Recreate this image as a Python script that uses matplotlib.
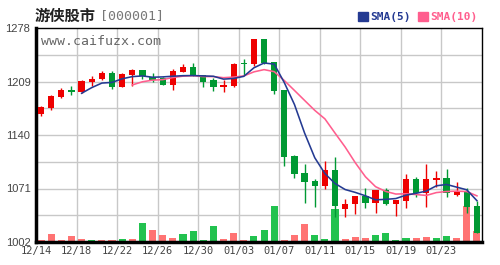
import numpy as np
import pandas as pd
import matplotlib
matplotlib.use("Agg")
import matplotlib.pyplot as plt
from matplotlib.patches import Rectangle

# daily candles, 12/14 .. 01/26
dates = pd.date_range("2023-12-14", periods=44, freq="D")
opens = [1166.7, 1175.2, 1189.4, 1198.0, 1195.5, 1208.7, 1211.9, 1219.6, 1201.9, 1217.4,
         1223.8, 1214.2, 1214.0, 1204.5, 1221.6, 1228.0, 1217.4, 1210.3, 1202.3, 1203.6,
         1232.5, 1231.2, 1263.8, 1233.8, 1198.0, 1112.9, 1091.4, 1081.0, 1074.6, 1094.9,
         1044.6, 1050.6, 1061.3, 1052.7, 1069.0, 1051.0, 1055.3, 1083.2, 1065.6, 1082.0,
         1085.0, 1062.6, 1066.9, 1048.4]
highs = [1177.0, 1192.0, 1200.6, 1203.2, 1211.0, 1216.5, 1222.5, 1222.5, 1220.3, 1225.1,
         1223.8, 1219.6, 1215.0, 1224.7, 1231.6, 1232.5, 1217.4, 1213.0, 1211.0, 1233.3,
         1238.0, 1263.8, 1263.8, 1234.0, 1198.0, 1114.2, 1102.6, 1083.2, 1106.9, 1111.0,
         1057.5, 1061.3, 1072.0, 1069.0, 1072.0, 1056.2, 1089.7, 1086.2, 1102.6, 1094.0,
         1096.0, 1079.0, 1071.3, 1054.9]
lows = [1165.0, 1172.6, 1188.0, 1192.0, 1194.0, 1203.6, 1210.6, 1199.7, 1201.5, 1203.2,
        1211.8, 1209.0, 1204.0, 1198.0, 1221.0, 1216.7, 1201.5, 1197.0, 1195.8, 1202.3,
        1217.4, 1229.0, 1231.2, 1192.9, 1100.4, 1085.0, 1052.7, 1047.5, 1070.0, 1033.9,
        1034.6, 1038.0, 1045.5, 1039.8, 1049.7, 1036.0, 1045.5, 1060.4, 1046.8, 1073.3,
        1060.4, 1061.7, 1039.0, 1013.2]
closes = [1175.7, 1190.3, 1198.0, 1195.5, 1209.6, 1212.2, 1219.6, 1202.3, 1218.7, 1223.8,
          1216.5, 1211.2, 1204.5, 1223.0, 1227.3, 1217.4, 1208.7, 1202.3, 1204.5, 1231.6,
          1231.2, 1263.8, 1233.3, 1197.1, 1112.0, 1090.0, 1079.8, 1074.6, 1094.9, 1048.0,
          1051.0, 1061.3, 1052.7, 1069.0, 1051.0, 1056.2, 1083.2, 1064.8, 1083.2, 1085.0,
          1064.8, 1066.0, 1047.5, 1013.2]
volumes = [23, 80, 23, 60, 30, 20, 20, 20, 30, 30,
           190, 120, 70, 40, 80, 110, 20, 160, 30, 90,
           20, 60, 120, 360, 20, 70, 180, 70, 30, 330,
           30, 50, 40, 70, 90, 20, 40, 40, 50, 40,
           60, 40, 360, 110]
vol_up = [1, 1, 1, 1, 1, 0, 1, 1, 0, 1,
          0, 1, 1, 1, 0, 0, 0, 0, 1, 1,
          1, 0, 0, 0, 1, 1, 1, 0, 0, 0,
          1, 1, 1, 0, 0, 0, 0, 1, 1, 0,
          0, 1, 1, 1]

y_ticks = [1002, 1071, 1140, 1209, 1278]

RED, GREEN = "#ee0000", "#009933"
VRED, VGREEN = "#ff7373", "#22c24f"
BLUE, PINK = "#243a92", "#ff5e8e"

df = pd.DataFrame({"o": opens, "h": highs, "l": lows, "c": closes, "v": volumes}, index=dates)
df["sma5"] = df["c"].rolling(5).mean()
df["sma10"] = df["c"].rolling(10).mean()
x = np.arange(len(df)) + 0.5

fig = plt.figure(figsize=(5, 2.65), dpi=100)
ax = fig.add_axes([36 / 500, 1 - 242 / 265, 446 / 500, 214 / 265])
ymin, ymax = y_ticks[0], y_ticks[-1]
ax.set_xlim(0, len(df))
ax.set_ylim(ymin, ymax)

# grid
for yy in np.linspace(ymin, ymax, 9)[1:-1]:
    ax.axhline(yy, color="#c8c8c8", lw=1, zorder=0)
for xx in range(4, len(df), 4):
    ax.axvline(xx, color="#c8c8c8", lw=1, zorder=0)

# volume bars along the bottom
vol_scale = 0.129
vcols = [VRED if u else VGREEN for u in vol_up]
ax.bar(x, df["v"] * vol_scale, bottom=ymin, width=0.7, color=vcols, zorder=1)

# candles
up = df["c"] >= df["o"]
cols = [RED if u else GREEN for u in up]
body_lo = np.minimum(df["o"], df["c"])
body_h = np.maximum(np.abs(df["c"] - df["o"]), 1.3)
ax.vlines(x, df["l"], df["h"], colors=cols, lw=1, zorder=2)
ax.bar(x, body_h, bottom=body_lo, width=0.62, color=cols, zorder=3)

# moving averages
ax.plot(x, df["sma10"], color=PINK, lw=1.15, zorder=4)
ax.plot(x, df["sma5"], color=BLUE, lw=1.15, zorder=5)

ax.set_yticks(y_ticks)
ax.set_yticklabels([str(t) for t in y_ticks], fontsize=8, color="#444444",
                   family="Liberation Sans")
xt = list(range(0, len(df), 4))
ax.set_xticks(xt)
ax.set_xticklabels([dates[i].strftime("%m/%d") for i in xt], fontsize=7.5,
                   color="#444444", family="DejaVu Sans Mono")
ax.tick_params(length=0, pad=3)
ax.tick_params(axis="y", pad=4)

for s in ["top", "right"]:
    ax.spines[s].set_linewidth(1)
ax.spines["left"].set_linewidth(2.5)
ax.spines["bottom"].set_linewidth(2.5)

ax.text(0.012, 0.965, "www.caifuzx.com", transform=ax.transAxes, fontsize=9.5,
        color="#666666", family="DejaVu Sans Mono", va="top", ha="left")

# title
fig.text(35 / 500, 1 - 16 / 265, "游侠股市", fontsize=11, fontweight="bold",
         family=["Noto Sans CJK SC", "DejaVu Sans"], va="center", ha="left", color="#222222")
fig.text(100 / 500, 1 - 16 / 265, "[000001]", fontsize=9.5, color="#777777",
         family="DejaVu Sans Mono", va="center", ha="left")

# legend
fig.patches.append(Rectangle((358 / 500, 1 - 21 / 265), 10 / 500, 9 / 265,
                             transform=fig.transFigure, color=BLUE))
fig.text(370 / 500, 1 - 16.5 / 265, "SMA(5)", fontsize=8, fontweight="bold", color=BLUE,
         family="DejaVu Sans Mono", va="center", ha="left")
fig.patches.append(Rectangle((418 / 500, 1 - 21 / 265), 10 / 500, 9 / 265,
                             transform=fig.transFigure, color=PINK))
fig.text(430 / 500, 1 - 16.5 / 265, "SMA(10)", fontsize=8, fontweight="bold", color=PINK,
         family="DejaVu Sans Mono", va="center", ha="left")

fig.savefig("out.png", dpi=100)
